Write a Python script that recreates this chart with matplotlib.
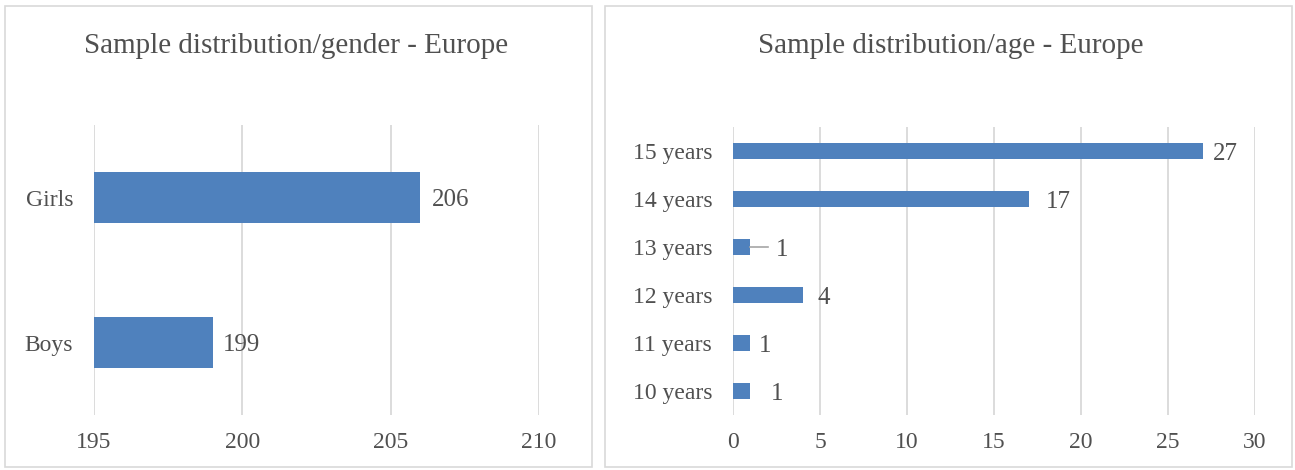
import matplotlib
matplotlib.use("Agg")
import matplotlib.pyplot as plt
from matplotlib.patches import Rectangle

plt.rcParams['font.family'] = ['Liberation Serif', 'DejaVu Serif']

gender_cats = ["Boys", "Girls"]
gender_vals = [199, 206]
gender_ticks = [195, 200, 205, 210]

age_cats = ["10 years", "11 years", "12 years", "13 years", "14 years", "15 years"]
age_vals = [1, 1, 4, 1, 17, 27]
age_ticks = [0, 5, 10, 15, 20, 25, 30]
# label offsets in points (Excel-moved labels)
gender_label_offsets = [7, 8]
age_label_offsets = [15, 6, 11, 18, 12, 7]

BAR = "#4F81BD"
TXT = "#505050"
GRID = "#D9D9D9"

W, H = 1295, 470
fig = plt.figure(figsize=(W / 100, H / 100), dpi=100)

def px_axes(x0, x1, y0, y1):
    return fig.add_axes([x0 / W, 1 - y1 / H, (x1 - x0) / W, (y1 - y0) / H])

# panel borders
for (bx0, bx1) in [(5, 592), (605, 1292)]:
    fig.patches.append(Rectangle((bx0 / W, 3 / H), (bx1 - bx0) / W, (H - 9) / H,
                                 transform=fig.transFigure, fill=False,
                                 edgecolor=GRID, linewidth=1.2))

def style(ax, xlim, ticks, ylim):
    ax.set_xlim(*xlim)
    ax.set_ylim(*ylim)
    ax.set_xticks(ticks)
    ax.xaxis.grid(True, color=GRID, linewidth=1.3)
    ax.set_axisbelow(True)
    for s in ax.spines.values():
        s.set_visible(False)
    ax.tick_params(axis='both', length=0, colors=TXT, labelsize=17)
    ax.tick_params(axis='x', pad=12)
    ax.tick_params(axis='y', pad=15)
    ax.patch.set_alpha(0)

# left chart
ax1 = px_axes(94, 539, 125, 415)
ax1.barh(range(len(gender_cats)), [v - gender_ticks[0] for v in gender_vals],
         left=gender_ticks[0], height=0.35, color=BAR)
ax1.set_yticks(range(len(gender_cats)))
ax1.set_yticklabels(gender_cats)
style(ax1, (gender_ticks[0], gender_ticks[-1]), gender_ticks, (-0.5, 1.5))
for i, (v, off) in enumerate(zip(gender_vals, gender_label_offsets)):
    ax1.annotate(str(v), (v, i), xytext=(off, 0), textcoords='offset points',
                 va='center_baseline', ha='left', color=TXT, fontsize=18)
fig.text(296 / W, 1 - 46 / H, "Sample distribution/gender - Europe",
         ha='center', va='center', fontsize=21, color=TXT)

# right chart
ax2 = px_axes(733, 1255, 127, 415)
ax2.barh(range(len(age_cats)), age_vals, height=0.34, color=BAR)
ax2.set_yticks(range(len(age_cats)))
ax2.set_yticklabels(age_cats)
style(ax2, (age_ticks[0], age_ticks[-1]), age_ticks, (-0.5, 5.5))
for i, (v, off) in enumerate(zip(age_vals, age_label_offsets)):
    ax2.annotate(str(v), (v, i), xytext=(off, 0), textcoords='offset points',
                 va='center_baseline', ha='left', color=TXT, fontsize=18)
# leader line for the moved "13 years" label
i13 = age_cats.index("13 years")
ax2.plot([age_vals[i13], age_vals[i13] + 1.0], [i13, i13], color="#A6A6A6", linewidth=1.2)
fig.text(951 / W, 1 - 46 / H, "Sample distribution/age - Europe",
         ha='center', va='center', fontsize=21, color=TXT)

fig.savefig("out.png", dpi=100)
